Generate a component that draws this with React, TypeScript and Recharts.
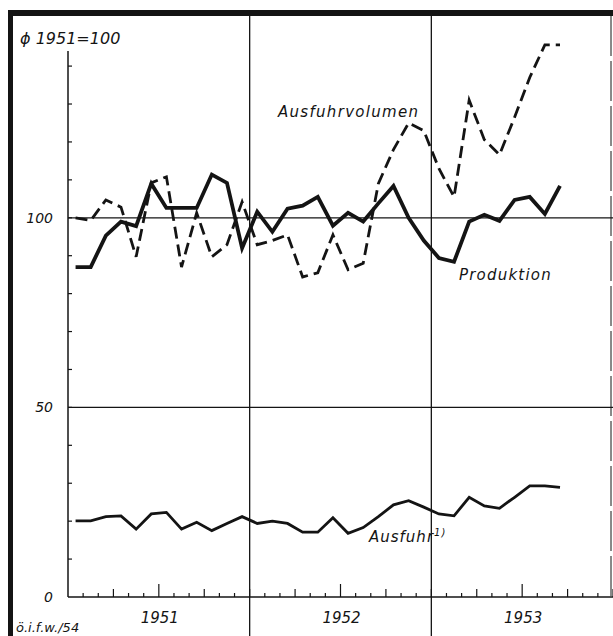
import { LineChart, Line, XAxis, YAxis, ReferenceLine } from 'recharts';

// Monthly values, Juli 1950 bis März 1953 (Ø 1951 = 100)
const MONTHS = [
  'VII/50', 'VIII/50', 'IX/50', 'X/50', 'XI/50', 'XII/50',
  'I/51', 'II/51', 'III/51', 'IV/51', 'V/51', 'VI/51',
  'VII/51', 'VIII/51', 'IX/51', 'X/51', 'XI/51', 'XII/51',
  'I/52', 'II/52', 'III/52', 'IV/52', 'V/52', 'VI/52',
  'VII/52', 'VIII/52', 'IX/52', 'X/52', 'XI/52', 'XII/52',
  'I/53', 'II/53', 'III/53',
];

const PRODUKTION = [
  87, 87, 95.3, 99, 97.8, 109, 102.6, 102.6, 102.6, 111.4, 109.2, 92,
  101.6, 96.3, 102.4, 103.2, 105.5, 97.9, 101.3, 99, 103.8, 108.4, 100, 94,
  89.4, 88.4, 99, 100.8, 99.2, 104.7, 105.5, 101, 108.4,
];

const AUSFUHRVOLUMEN = [
  100, 99.3, 104.7, 102.8, 89.7, 109.2, 110.8, 87, 101.3, 89.7, 92.9, 104.2,
  92.9, 94, 95.5, 84.4, 85.5, 95.5, 86.3, 88, 109, 118, 125, 123,
  113, 105.5, 131, 120.6, 116.6, 126.5, 137, 145.6, 145.6,
];

const AUSFUHR = [
  20.1, 20.1, 21.2, 21.4, 17.9, 21.9, 22.3, 17.9, 19.7, 17.5, 19.4, 21.2,
  19.4, 20, 19.4, 17.1, 17.1, 20.9, 16.8, 18.3, 21.2, 24.3, 25.4, 23.7,
  21.9, 21.4, 26.3, 24, 23.4, 26.3, 29.3, 29.3, 28.9,
];

const YEAR_LABELS: Record<number, string> = { 6: '1951', 18: '1952', 30: '1953' };
const Y_LABELS = [0, 50, 100];
const Y_TICKS = [0, 10, 20, 30, 40, 50, 60, 70, 80, 90, 100, 110, 120, 130, 140];
const X_TICKS = Array.from({ length: 37 }, (_, i) => i);

const data = MONTHS.map((m, i) => ({
  month: m,
  t: i + 0.5,
  produktion: PRODUKTION[i],
  volumen: AUSFUHRVOLUMEN[i],
  ausfuhr: AUSFUHR[i],
}));

const INK = '#141414';
const FONT = '"DejaVu Sans", sans-serif';

const XTick = ({ x, y, payload }: any) => {
  const m = payload.value;
  const len = m % 12 === 6 ? 13 : m % 3 === 0 ? 8 : 4;
  const label = YEAR_LABELS[m];
  return (
    <g>
      {m > 0 && <line x1={x} x2={x} y1={y} y2={y - len} stroke={INK} strokeWidth={1.2} />}
      {label && (
        <text x={x + 1} y={y + 26} textAnchor="middle" fontFamily={FONT} fontStyle="italic" fontSize={15} fill={INK}>
          {label}
        </text>
      )}
    </g>
  );
};

const YTick = ({ x, y, payload }: any) => {
  const v = payload.value;
  return (
    <g>
      {v > 0 && <line x1={x} x2={x + 4} y1={y} y2={y} stroke={INK} strokeWidth={1.2} />}
      {Y_LABELS.includes(v) && (
        <text x={x - 15} y={y + 5} textAnchor="end" fontFamily={FONT} fontStyle="italic" fontSize={14} fill={INK}>
          {v}
        </text>
      )}
    </g>
  );
};

const textStyle = { fontFamily: FONT, fontStyle: 'italic' as const, fill: INK };

export default function App() {
  return (
    <div style={{ position: 'absolute', left: 0, top: 0, width: 613, height: 636, background: '#fff' }}>
      <LineChart width={613} height={636} data={data} margin={{ top: 13, right: 0, bottom: 0, left: 0 }}>
        <XAxis
          dataKey="t"
          type="number"
          domain={[0, 36]}
          ticks={X_TICKS}
          tick={<XTick />}
          tickLine={false}
          tickSize={0}
          tickMargin={0}
          height={39}
          axisLine={{ stroke: INK, strokeWidth: 1.5 }}
          interval={0}
        />
        <YAxis
          type="number"
          domain={[0, 154]}
          ticks={Y_TICKS}
          tick={<YTick />}
          tickLine={false}
          tickSize={0}
          tickMargin={0}
          width={68}
          axisLine={false}
          interval={0}
        />
        <ReferenceLine y={100} stroke={INK} strokeWidth={1.2} />
        <ReferenceLine y={50} stroke={INK} strokeWidth={1.2} />
        <ReferenceLine segment={[{ x: 0, y: 0 }, { x: 0, y: 144 }]} stroke={INK} strokeWidth={1.5} ifOverflow="visible" />
        <ReferenceLine segment={[{ x: 12, y: -10.3 }, { x: 12, y: 154 }]} stroke={INK} strokeWidth={1.3} ifOverflow="visible" />
        <ReferenceLine segment={[{ x: 24, y: -10.3 }, { x: 24, y: 154 }]} stroke={INK} strokeWidth={1.3} ifOverflow="visible" />
        <Line
          dataKey="volumen"
          type="linear"
          stroke={INK}
          strokeWidth={2.8}
          strokeDasharray="12 6"
          dot={false}
          isAnimationActive={false}
        />
        <Line dataKey="produktion" type="linear" stroke={INK} strokeWidth={3.8} dot={false} isAnimationActive={false} />
        <Line dataKey="ausfuhr" type="linear" stroke={INK} strokeWidth={2.8} dot={false} isAnimationActive={false} />
      </LineChart>
      <svg width={613} height={636} style={{ position: 'absolute', left: 0, top: 0, pointerEvents: 'none' }}>
        <rect x={8} y={10} width={605} height={6} fill={INK} />
        <rect x={8} y={10} width={5} height={626} fill={INK} />
        <line x1={611} x2={611} y1={16} y2={600} stroke={INK} strokeWidth={1} strokeDasharray="40 5" />
        <text x={20} y={44} fontSize={16} {...textStyle}>ϕ 1951=100</text>
        <text x={278} y={117} fontSize={15} letterSpacing={1.3} {...textStyle}>Ausfuhrvolumen</text>
        <text x={459} y={280} fontSize={15} letterSpacing={1.2} {...textStyle}>Produktion</text>
        <text x={369} y={542} fontSize={15} letterSpacing={1} {...textStyle}>
          Ausfuhr<tspan fontSize={10} dy={-6}>1)</tspan>
        </text>
        <text x={16} y={632} fontSize={13} {...textStyle}>ö.i.f.w./54</text>
      </svg>
    </div>
  );
}
